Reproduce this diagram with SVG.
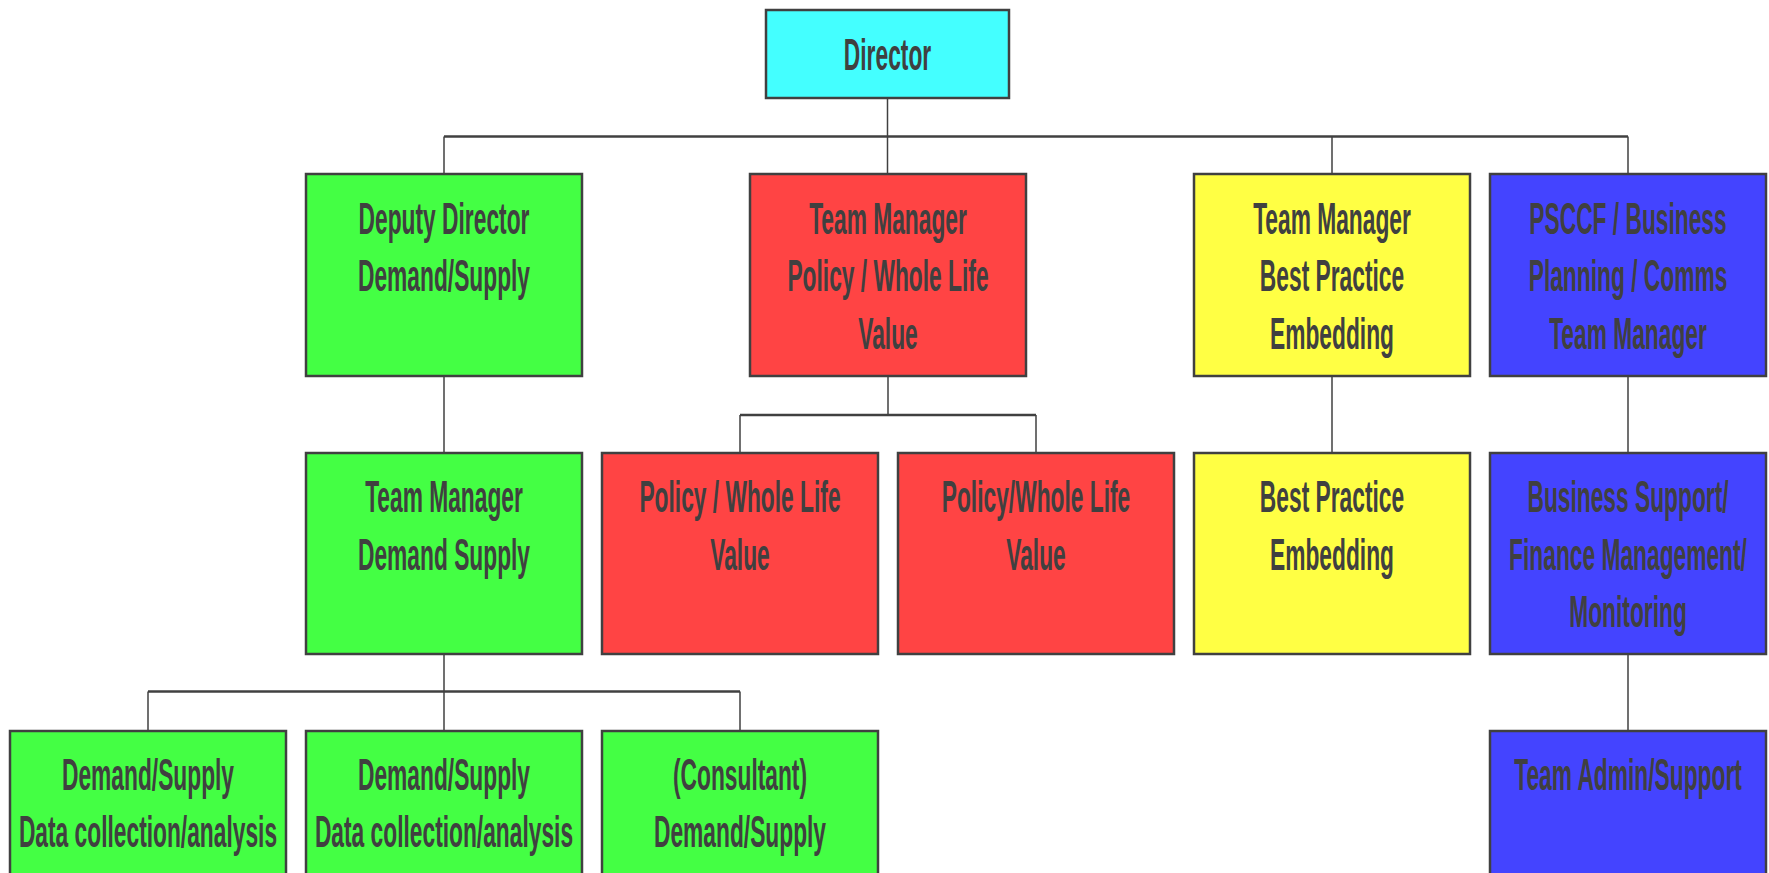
<svg xmlns="http://www.w3.org/2000/svg" width="1769" height="873" viewBox="0 0 1769 873">
<style>
.box{stroke:#404040;stroke-width:2.5}
.cy{fill:#44FFFF}.gr{fill:#44FF44}.rd{fill:#FF4444}.ye{fill:#FFFF44}.bl{fill:#4444FF}
.t{font-family:"Liberation Sans",Arial,sans-serif;font-weight:bold;font-size:45px;fill:#404040;text-anchor:middle}
.h{stroke:#404040;stroke-width:2.5;fill:none}
.v{stroke:#404040;stroke-width:1.5;fill:none}
</style>
<rect width="1769" height="873" fill="#FFFFFF"/>
<g id="connectors">
<line class="v" x1="887.5" y1="98" x2="887.5" y2="174"/>
<line class="h" x1="444" y1="136.5" x2="1628" y2="136.5"/>
<line class="v" x1="444" y1="136.5" x2="444" y2="174"/>
<line class="v" x1="1332" y1="136.5" x2="1332" y2="174"/>
<line class="v" x1="1628" y1="136.5" x2="1628" y2="174"/>
<line class="v" x1="444" y1="376" x2="444" y2="453"/>
<line class="v" x1="888" y1="376" x2="888" y2="415"/>
<line class="h" x1="740" y1="415" x2="1036" y2="415"/>
<line class="v" x1="740" y1="415" x2="740" y2="453"/>
<line class="v" x1="1036" y1="415" x2="1036" y2="453"/>
<line class="v" x1="1332" y1="376" x2="1332" y2="453"/>
<line class="v" x1="1628" y1="376" x2="1628" y2="453"/>
<line class="v" x1="1628" y1="654" x2="1628" y2="731"/>
<line class="v" x1="444" y1="654" x2="444" y2="691.5"/>
<line class="h" x1="148" y1="691.5" x2="740" y2="691.5"/>
<line class="v" x1="148" y1="691.5" x2="148" y2="731"/>
<line class="v" x1="444" y1="691.5" x2="444" y2="731"/>
<line class="v" x1="740" y1="691.5" x2="740" y2="731"/>
</g>
<g id="director">
<rect class="box cy" x="766" y="10" width="243" height="88"/>
<text class="t" transform="translate(887.5 0) scale(0.506 1)" x="0" y="70">Director</text>
</g>
<g id="deputy-director">
<rect class="box gr" x="306" y="174" width="276" height="202"/>
<text class="t" transform="translate(444 0) scale(0.506 1)"><tspan x="0" y="234">Deputy Director</tspan><tspan x="0" y="291.5">Demand/Supply</tspan></text>
</g>
<g id="tm-policy">
<rect class="box rd" x="750" y="174" width="276" height="202"/>
<text class="t" transform="translate(888 0) scale(0.506 1)"><tspan x="0" y="234">Team Manager</tspan><tspan x="0" y="291.5">Policy / Whole Life</tspan><tspan x="0" y="349">Value</tspan></text>
</g>
<g id="tm-best-practice">
<rect class="box ye" x="1194" y="174" width="276" height="202"/>
<text class="t" transform="translate(1332 0) scale(0.506 1)"><tspan x="0" y="234">Team Manager</tspan><tspan x="0" y="291.5">Best Practice</tspan><tspan x="0" y="349">Embedding</tspan></text>
</g>
<g id="psccf">
<rect class="box bl" x="1490" y="174" width="276" height="202"/>
<text class="t" transform="translate(1628 0) scale(0.506 1)"><tspan x="0" y="234">PSCCF / Business</tspan><tspan x="0" y="291.5">Planning / Comms</tspan><tspan x="0" y="349">Team Manager</tspan></text>
</g>
<g id="tm-demand-supply">
<rect class="box gr" x="306" y="453" width="276" height="201"/>
<text class="t" transform="translate(444 0) scale(0.506 1)"><tspan x="0" y="512.5">Team Manager</tspan><tspan x="0" y="570">Demand Supply</tspan></text>
</g>
<g id="policy-1">
<rect class="box rd" x="602" y="453" width="276" height="201"/>
<text class="t" transform="translate(740 0) scale(0.506 1)"><tspan x="0" y="512.5">Policy / Whole Life</tspan><tspan x="0" y="570">Value</tspan></text>
</g>
<g id="policy-2">
<rect class="box rd" x="898" y="453" width="276" height="201"/>
<text class="t" transform="translate(1036 0) scale(0.506 1)"><tspan x="0" y="512.5">Policy/Whole Life</tspan><tspan x="0" y="570">Value</tspan></text>
</g>
<g id="best-practice">
<rect class="box ye" x="1194" y="453" width="276" height="201"/>
<text class="t" transform="translate(1332 0) scale(0.506 1)"><tspan x="0" y="512.5">Best Practice</tspan><tspan x="0" y="570">Embedding</tspan></text>
</g>
<g id="business-support">
<rect class="box bl" x="1490" y="453" width="276" height="201"/>
<text class="t" transform="translate(1628 0) scale(0.506 1)"><tspan x="0" y="512.5">Business Support/</tspan><tspan x="0" y="570">Finance Management/</tspan><tspan x="0" y="627.5">Monitoring</tspan></text>
</g>
<g id="data-1">
<rect class="box gr" x="10" y="731" width="276" height="160"/>
<text class="t" transform="translate(148 0) scale(0.506 1)"><tspan x="0" y="790">Demand/Supply</tspan><tspan x="0" y="847.5">Data collection/analysis</tspan></text>
</g>
<g id="data-2">
<rect class="box gr" x="306" y="731" width="276" height="160"/>
<text class="t" transform="translate(444 0) scale(0.506 1)"><tspan x="0" y="790">Demand/Supply</tspan><tspan x="0" y="847.5">Data collection/analysis</tspan></text>
</g>
<g id="consultant">
<rect class="box gr" x="602" y="731" width="276" height="160"/>
<text class="t" transform="translate(740 0) scale(0.506 1)"><tspan x="0" y="790">(Consultant)</tspan><tspan x="0" y="847.5">Demand/Supply</tspan></text>
</g>
<g id="team-admin">
<rect class="box bl" x="1490" y="731" width="276" height="160"/>
<text class="t" transform="translate(1628 0) scale(0.506 1)"><tspan x="0" y="790">Team Admin/Support</tspan></text>
</g>
</svg>
